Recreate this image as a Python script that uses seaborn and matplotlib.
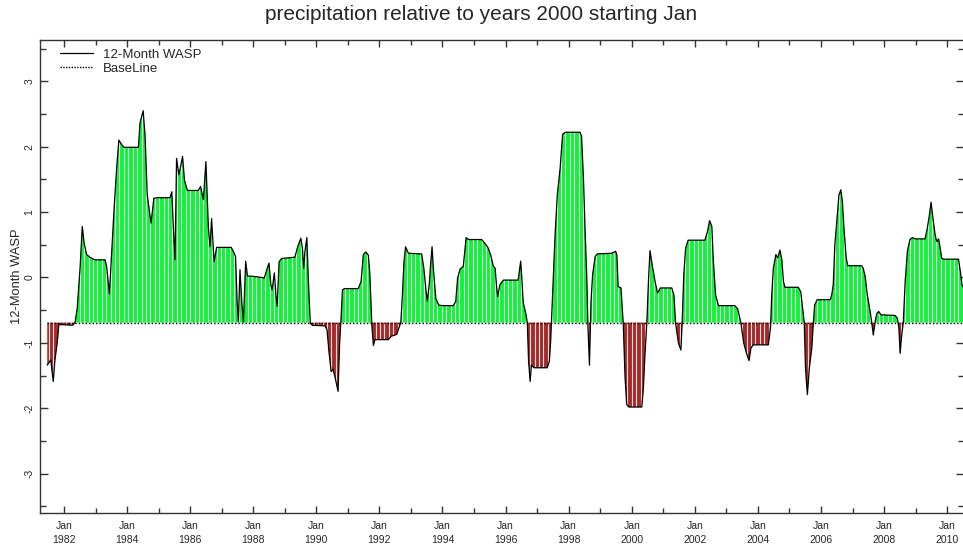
import numpy as np
import matplotlib
matplotlib.use("Agg")
import matplotlib.pyplot as plt
import seaborn as sns
from matplotlib.path import Path
from matplotlib.lines import Line2D

# 12-month WASP (decimal years)
dates = [
    1981.47, 1981.58, 1981.66, 1981.71, 1981.79, 1981.84, 1981.87, 1982.27, 1982.35, 1982.42,
    1982.51, 1982.58, 1982.64, 1982.72, 1982.82, 1982.98, 1983.30, 1983.35, 1983.44, 1983.51,
    1983.59, 1983.67, 1983.74, 1983.83, 1983.90, 1984.36, 1984.41, 1984.51, 1984.57, 1984.64,
    1984.76, 1984.85, 1984.96, 1985.36, 1985.42, 1985.47, 1985.52, 1985.57, 1985.64, 1985.70,
    1985.76, 1985.82, 1985.91, 1986.26, 1986.33, 1986.42, 1986.50, 1986.58, 1986.63, 1986.68,
    1986.76, 1986.84, 1987.30, 1987.37, 1987.44, 1987.49, 1987.53, 1987.58, 1987.64, 1987.69,
    1987.76, 1987.82, 1987.95, 1988.27, 1988.35, 1988.43, 1988.50, 1988.56, 1988.60, 1988.67,
    1988.72, 1988.76, 1988.82, 1988.90, 1989.32, 1989.41, 1989.51, 1989.56, 1989.60, 1989.64,
    1989.70, 1989.75, 1989.81, 1989.87, 1990.28, 1990.34, 1990.40, 1990.47, 1990.53, 1990.61,
    1990.69, 1990.74, 1990.78, 1990.83, 1990.89, 1991.33, 1991.42, 1991.49, 1991.57, 1991.65,
    1991.70, 1991.76, 1991.81, 1991.86, 1992.28, 1992.37, 1992.55, 1992.62, 1992.68, 1992.73,
    1992.78, 1992.83, 1992.92, 1993.34, 1993.41, 1993.48, 1993.52, 1993.58, 1993.63, 1993.67,
    1993.71, 1993.79, 1993.88, 1993.98, 1994.34, 1994.42, 1994.48, 1994.56, 1994.66, 1994.75,
    1994.83, 1995.24, 1995.35, 1995.45, 1995.53, 1995.61, 1995.67, 1995.72, 1995.75, 1995.82,
    1995.93, 1996.40, 1996.48, 1996.52, 1996.56, 1996.65, 1996.69, 1996.73, 1996.78, 1996.82,
    1996.90, 1997.32, 1997.39, 1997.43, 1997.49, 1997.57, 1997.64, 1997.73, 1997.81, 1997.90,
    1998.36, 1998.41, 1998.47, 1998.52, 1998.58, 1998.61, 1998.66, 1998.71, 1998.76, 1998.84,
    1998.91, 1999.36, 1999.49, 1999.53, 1999.57, 1999.66, 1999.73, 1999.79, 1999.84, 1999.91,
    2000.32, 2000.37, 2000.42, 2000.48, 2000.53, 2000.58, 2000.65, 2000.74, 2000.82, 2000.91,
    2001.27, 2001.34, 2001.39, 2001.48, 2001.56, 2001.60, 2001.65, 2001.71, 2001.79, 2002.32,
    2002.40, 2002.47, 2002.54, 2002.59, 2002.66, 2002.75, 2003.27, 2003.36, 2003.46, 2003.55,
    2003.64, 2003.72, 2003.78, 2003.85, 2004.33, 2004.40, 2004.44, 2004.49, 2004.57, 2004.63,
    2004.70, 2004.76, 2004.81, 2004.86, 2005.28, 2005.36, 2005.42, 2005.47, 2005.51, 2005.57,
    2005.63, 2005.71, 2005.76, 2005.80, 2005.88, 2006.29, 2006.34, 2006.39, 2006.44, 2006.50,
    2006.57, 2006.63, 2006.68, 2006.73, 2006.80, 2006.85, 2007.29, 2007.34, 2007.40, 2007.47,
    2007.56, 2007.61, 2007.66, 2007.72, 2007.77, 2007.83, 2007.90, 2008.35, 2008.42, 2008.47,
    2008.51, 2008.56, 2008.61, 2008.67, 2008.74, 2008.82, 2008.90, 2008.98, 2009.30, 2009.37,
    2009.44, 2009.49, 2009.55, 2009.62, 2009.67, 2009.73, 2009.78, 2009.83, 2009.90, 2010.36,
    2010.42, 2010.47, 2010.51,
]
wasp = [
    -1.34, -1.26, -1.59, -1.28, -0.98, -0.71, -0.72, -0.73, -0.69, -0.47,
    0.14, 0.78, 0.52, 0.35, 0.31, 0.27, 0.27, 0.18, -0.25, 0.35,
    1.06, 1.67, 2.10, 2.03, 1.99, 1.99, 2.36, 2.55, 2.18, 1.26,
    0.83, 1.21, 1.22, 1.22, 1.31, 0.75, 0.27, 1.82, 1.57, 1.70,
    1.85, 1.49, 1.33, 1.33, 1.39, 1.19, 1.77, 0.75, 0.47, 0.90,
    0.24, 0.46, 0.46, 0.40, 0.32, -0.37, -0.67, 0.12, -0.39, -0.68,
    0.25, 0.02, 0.02, 0.00, -0.01, 0.12, 0.22, -0.11, -0.19, 0.07,
    -0.27, -0.44, 0.24, 0.29, 0.31, 0.47, 0.60, 0.45, 0.14, 0.40,
    0.61, -0.06, -0.70, -0.73, -0.74, -0.80, -1.13, -1.44, -1.40, -1.56,
    -1.74, -1.00, -0.67, -0.19, -0.17, -0.17, -0.06, 0.35, 0.39, 0.34,
    0.04, -0.72, -1.04, -0.95, -0.95, -0.90, -0.87, -0.77, -0.69, -0.27,
    0.24, 0.47, 0.37, 0.36, 0.14, -0.21, -0.36, -0.11, 0.24, 0.47,
    0.14, -0.32, -0.42, -0.43, -0.43, -0.37, -0.01, 0.13, 0.17, 0.61,
    0.58, 0.58, 0.52, 0.45, 0.34, 0.18, 0.14, -0.16, -0.29, -0.11,
    -0.04, -0.04, 0.25, -0.04, -0.38, -0.57, -0.69, -1.28, -1.59, -1.34,
    -1.38, -1.38, -1.28, -0.98, -0.27, 0.65, 1.26, 1.67, 2.19, 2.22,
    2.22, 2.16, 1.52, 0.75, -0.06, -0.72, -1.34, -0.37, 0.04, 0.32,
    0.36, 0.37, 0.40, 0.34, -0.14, -0.16, -0.69, -1.54, -1.94, -1.98,
    -1.98, -1.69, -1.18, -0.69, -0.06, 0.41, 0.19, -0.06, -0.24, -0.16,
    -0.16, -0.27, -0.69, -1.00, -1.11, -0.69, 0.04, 0.45, 0.57, 0.57,
    0.70, 0.87, 0.78, 0.24, -0.27, -0.43, -0.43, -0.48, -0.69, -1.00,
    -1.16, -1.27, -1.08, -1.03, -1.03, -0.77, -0.27, 0.14, 0.35, 0.30,
    0.42, 0.27, -0.06, -0.15, -0.15, -0.22, -0.47, -0.69, -1.39, -1.79,
    -1.39, -1.08, -0.69, -0.42, -0.34, -0.34, -0.27, -0.11, 0.50, 0.86,
    1.26, 1.34, 1.16, 0.75, 0.30, 0.18, 0.18, 0.14, 0.02, -0.27,
    -0.52, -0.69, -0.88, -0.67, -0.55, -0.52, -0.57, -0.58, -0.62, -0.77,
    -1.16, -0.88, -0.69, -0.06, 0.40, 0.58, 0.61, 0.59, 0.59, 0.75,
    0.96, 1.15, 0.91, 0.65, 0.55, 0.59, 0.45, 0.29, 0.28, 0.28,
    0.09, -0.11, -0.15,
]
baseline = -0.69

x_years = list(range(1982, 2011, 2))
x_labels = ["Jan\n%d" % y for y in x_years]
y_ticks = [-3, -2, -1, 0, 1, 2, 3]

sns.set_style("ticks")
plt.rcParams['font.family'] = ['Liberation Sans', 'DejaVu Sans']

fig = plt.figure(figsize=(9.63, 5.48), dpi=100)
ax = fig.add_axes([40 / 963, 35 / 548, 924 / 963, 473 / 548])

d = np.array(dates)
w = np.array(wasp)

up = ax.fill_between(d, w, baseline, where=w >= baseline, interpolate=True,
                     color='#14f03c', linewidth=0)
dn = ax.fill_between(d, w, baseline, where=w <= baseline, interpolate=True,
                     color='#a52a2a', linewidth=0)

# white stripes inside the filled area
stripes = ax.vlines(np.arange(d[0] + 0.05, d[-1], 0.14), -4, 4, colors='white',
                    linewidth=0.8, alpha=0.85)
clip = Path.make_compound_path(*(up.get_paths() + dn.get_paths()))
stripes.set_clip_path(clip, ax.transData)

ax.hlines(baseline, d[0], d[-1], colors='black', linestyles=(0, (1, 1.5)), linewidth=1)
sns.lineplot(x=d, y=w, ax=ax, color='black', linewidth=0.9, sort=False)

ax.set_xlim(1981.24, 2010.535)
ax.set_ylim(-3.6, 3.63)
ax.set_xticks(x_years)
ax.set_xticklabels(x_labels, fontsize=7.5, linespacing=1.4)
ax.set_xticks(range(1983, 2011, 2), minor=True)
ax.set_yticks(y_ticks)
ax.set_yticklabels([str(v) for v in y_ticks], fontsize=7.5, rotation=90, va='center')
ax.set_yticks(np.arange(-3.5, 3.6, 0.5), minor=True)

ax.tick_params(which='both', direction='in', top=True, right=True, color='#333333', width=1)
ax.tick_params(axis='x', which='major', length=5, pad=6)
ax.tick_params(axis='x', which='minor', length=3.5)
ax.tick_params(axis='y', which='major', length=6, pad=4)
ax.tick_params(axis='y', which='minor', length=4.5)
for s in ax.spines.values():
    s.set_color('#333333')
    s.set_linewidth(1)

ax.set_xlabel('')
ax.set_ylabel('12-Month WASP', fontsize=9.3, labelpad=1)

handles = [Line2D([], [], color='black', linewidth=0.9),
           Line2D([], [], color='black', linestyle=(0, (1, 1)), linewidth=1)]
ax.legend(handles, ['12-Month WASP', 'BaseLine'], loc='upper left', frameon=False,
          bbox_to_anchor=(20 / 924, 0.982), borderaxespad=0, borderpad=0,
          handlelength=2.5, handletextpad=0.75, labelspacing=0.15, fontsize=9.5)

fig.text(0.5, 1 - 14 / 548, 'precipitation relative to years 2000 starting Jan',
         ha='center', va='center', fontsize=15)

fig.savefig('out.png', dpi=100)
